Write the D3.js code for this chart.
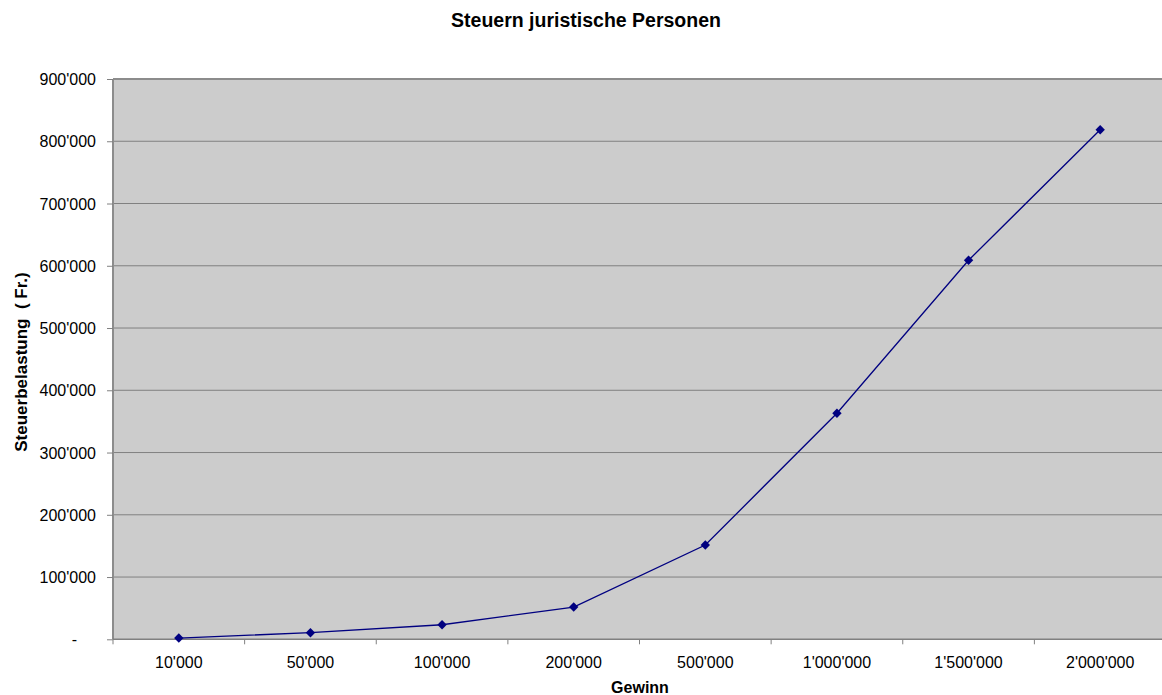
<!DOCTYPE html>
<html><head><meta charset="utf-8">
<script src="https://cdnjs.cloudflare.com/ajax/libs/d3/7.8.5/d3.min.js"></script>
<style>body{margin:0;background:#fff}svg{display:block}text{font-family:"Liberation Sans",Arial,sans-serif}</style>
</head><body><svg id="c" width="1162" height="695"></svg>
<script>
const categories = ["10'000","50'000","100'000","200'000","500'000","1'000'000","1'500'000","2'000'000"];
const values = [2000, 10600, 23400, 51800, 151400, 363200, 608800, 818600];
const yTicks = [0,100000,200000,300000,400000,500000,600000,700000,800000,900000];
const yTickLabels = ["-","100'000","200'000","300'000","400'000","500'000","600'000","700'000","800'000","900'000"];

const svg = d3.select("#c");
const L = 113, T = 79, R = 1166, B = 639.3;
const x = d3.scaleBand().domain(categories).range([L, R]);
const y = d3.scaleLinear().domain([0, 900000]).range([B, T]);

svg.append("rect").attr("x", L).attr("y", T).attr("width", R - L).attr("height", B - T).attr("fill", "#cccccc");

svg.append("g").selectAll("line").data(yTicks.slice(1)).join("line")
  .attr("x1", L).attr("x2", R).attr("y1", d => y(d)).attr("y2", d => y(d))
  .attr("stroke", "#808080").attr("stroke-width", 1);

// borders
svg.append("line").attr("x1", L).attr("x2", R).attr("y1", T).attr("y2", T).attr("stroke", "#8c8c8c").attr("stroke-width", 2);
svg.append("line").attr("x1", L).attr("x2", L).attr("y1", T).attr("y2", B).attr("stroke", "#8c8c8c").attr("stroke-width", 2);

const yAxis = d3.axisLeft(y).tickValues(yTicks).tickSize(6).tickPadding(17)
  .tickFormat((d, i) => yTickLabels[i]);
const gy = svg.append("g").attr("transform", `translate(${L},0)`).call(yAxis);
gy.select(".domain").remove();
gy.selectAll(".tick line").attr("stroke", "#808080");
gy.selectAll(".tick text").attr("font-size", 16).attr("fill", "#000").attr("dy", "0.35em")
  .attr("x", d => d === 0 ? -36 : -17);

const xAxis = d3.axisBottom(x).tickSize(0).tickPadding(0);
const gx = svg.append("g").attr("transform", `translate(0,${B})`).call(xAxis);
gx.select(".domain").remove();
gx.selectAll(".tick text").attr("font-size", 16).attr("fill", "#000").attr("dy", null).attr("y", 29);
svg.append("line").attr("x1", L).attr("x2", R).attr("y1", B).attr("y2", B).attr("stroke", "#808080").attr("stroke-width", 1.5);
const bounds = categories.map(c => x(c)).concat([R]);
svg.append("g").selectAll("line").data(bounds).join("line")
  .attr("x1", d => d).attr("x2", d => d).attr("y1", B).attr("y2", B + 5)
  .attr("stroke", "#808080");

const cx = d => x(d) + x.bandwidth() / 2;
svg.append("path").datum(values)
  .attr("d", d3.line().x((v, i) => cx(categories[i])).y(v => y(v)))
  .attr("fill", "none").attr("stroke", "#000080").attr("stroke-width", 1.3);
svg.append("g").selectAll("path").data(values).join("path")
  .attr("transform", (v, i) => `translate(${cx(categories[i])},${y(v)})`)
  .attr("d", "M0,-4.7L4.7,0L0,4.7L-4.7,0Z").attr("fill", "#000080");

svg.append("text").attr("x", 586).attr("y", 27).attr("text-anchor", "middle")
  .attr("font-size", 19.5).attr("font-weight", "bold").text("Steuern juristische Personen");
svg.append("text").attr("x", 640).attr("y", 693).attr("text-anchor", "middle")
  .attr("font-size", 16).attr("font-weight", "bold").text("Gewinn");
svg.append("text").attr("transform", "translate(27,362) rotate(-90)").attr("text-anchor", "middle")
  .attr("font-size", 17).attr("font-weight", "bold").attr("xml:space", "preserve").text("Steuerbelastung  ( Fr.)");
</script></body></html>
